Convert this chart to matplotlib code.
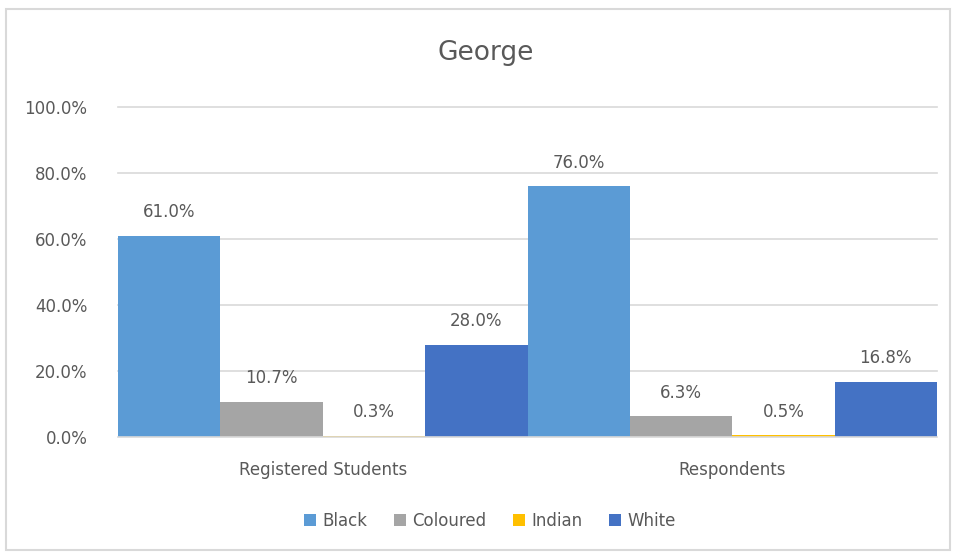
import numpy as np
import matplotlib.pyplot as plt
from matplotlib.patches import Rectangle

categories = ['Registered Students', 'Respondents']
groups = ['Black', 'Coloured', 'Indian', 'White']
black = [61.0, 76.0]
coloured = [10.7, 6.3]
indian = [0.3, 0.5]
white = [28.0, 16.8]
yticks = [0, 20, 40, 60, 80, 100]

colors = ['#5B9BD5', '#A5A5A5', '#FFC000', '#4472C4']
txt = '#595959'

plt.rcParams['font.family'] = ['DejaVu Sans']

W, H = 955, 556
fig = plt.figure(figsize=(W / 100, H / 100), dpi=100)
fig.patches.append(Rectangle((6 / W, 6 / H), 944 / W, 541 / H, transform=fig.transFigure,
                             fill=False, edgecolor='#D9D9D9', linewidth=1.5))

ax = fig.add_axes([118 / W, 1 - 437 / H, (937 - 118) / W, (437 - 107) / H])

x = np.arange(len(categories))
bw = 0.25
series = [black, coloured, indian, white]
for i, (name, vals) in enumerate(zip(groups, series)):
    pos = x + (i - 1.5) * bw
    ax.bar(pos, vals, width=bw, color=colors[i], label=name, zorder=2)
    for p, v in zip(pos, vals):
        ax.annotate(f'{v:.1f}%', (p, v), xytext=(0, 17), textcoords='offset points',
                    ha='center', va='center', fontsize=12, color=txt)

ax.set_xlim(-0.5, 1.5)
ax.set_ylim(0, 100)
ax.set_yticks(yticks)
ax.set_yticklabels([f'{t:.1f}%' for t in yticks])
ax.set_xticks(x)
ax.set_xticklabels(categories)
ax.tick_params(axis='both', length=0, labelsize=12, labelcolor=txt)
ax.tick_params(axis='y', pad=22)
ax.tick_params(axis='x', pad=17)
ax.grid(axis='y', color='#D9D9D9', linewidth=1.2, zorder=0)
for line in ax.get_ygridlines():
    line.set_clip_on(False)
for s in ax.spines.values():
    s.set_visible(False)
ax.axhline(0, color='#D9D9D9', linewidth=1.2, zorder=3)

fig.text(486 / W, 1 - 53 / H, 'George', ha='center', va='center', fontsize=19, color=txt)

leg = fig.legend(loc='center', bbox_to_anchor=(490 / W, 1 - 521 / H), ncol=4, frameon=False,
                 fontsize=12, labelcolor=txt, handlelength=0.7, handleheight=0.7,
                 handletextpad=0.4, columnspacing=1.6)

fig.savefig('out.png', dpi=100)
